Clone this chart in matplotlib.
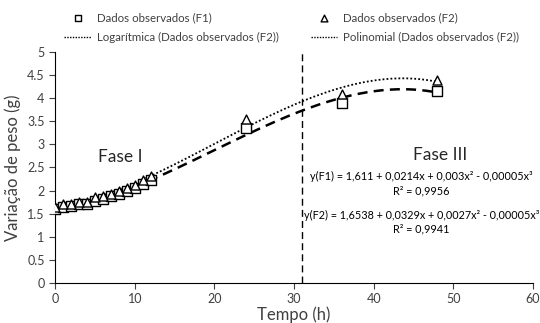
import numpy as np
import matplotlib.pyplot as plt

plt.rcParams['font.family'] = ['Lato', 'DejaVu Sans']

tempo = [0, 1, 2, 3, 4, 5, 6, 7, 8, 9, 10, 11, 12, 24, 36, 48]
peso_f1 = [1.60, 1.64, 1.67, 1.71, 1.72, 1.78, 1.82, 1.88, 1.93, 1.99, 2.06, 2.14, 2.22, 3.36, 3.90, 4.15]
peso_f2 = [1.65, 1.70, 1.72, 1.75, 1.76, 1.85, 1.88, 1.93, 1.98, 2.05, 2.13, 2.23, 2.32, 3.56, 4.09, 4.39]
fase_x = 31

eq_f1 = "y(F1) = 1,611 + 0,0214x + 0,003x² - 0,00005x³"
r2_f1 = "R² = 0,9956"
eq_f2 = "y(F2) = 1,6538 + 0,0329x + 0,0027x² - 0,00005x³"
r2_f2 = "R² = 0,9941"

# trend curves (cubic fit, like the spreadsheet trendlines)
t = np.array(tempo, dtype=float)
xs = np.linspace(0, 48, 200)
fit1 = np.polyval(np.polyfit(t, peso_f1, 3), xs)
fit2 = np.polyval(np.polyfit(t, peso_f2, 3), xs)

fig = plt.figure(figsize=(5.4, 3.23), dpi=100)
ax = fig.add_axes([0.102, 0.124, 0.885, 0.715])

ax.plot(xs, fit1, color='black', lw=1.8, ls=(0, (4, 2.5)), zorder=2)
ax.plot(xs, fit2, color='black', lw=1.3, ls=(0, (1, 1.2)), zorder=2)
ax.plot([fase_x, fase_x], [0, 5], color='black', lw=1, ls=(0, (5, 3)), zorder=1)

s1 = ax.scatter(tempo, peso_f1, marker='s', s=42, facecolor='white', edgecolor='black', lw=1, zorder=3)
s2 = ax.scatter(tempo, peso_f2, marker='^', s=42, facecolor='white', edgecolor='black', lw=1, zorder=4)

ax.text(8.2, 2.72, "Fase I", fontsize=12.5, ha='center', va='center', color='#262626')
ax.text(48.4, 2.78, "Fase III", fontsize=12.5, ha='center', va='center', color='#262626')
ax.text(46.0, 2.31, eq_f1, fontsize=7.8, ha='center', va='center')
ax.text(46.0, 2.00, r2_f1, fontsize=7.8, ha='center', va='center')
ax.text(46.0, 1.46, eq_f2, fontsize=7.8, ha='center', va='center')
ax.text(46.0, 1.16, r2_f2, fontsize=7.8, ha='center', va='center')

ax.set_xlim(0, 60)
ax.set_ylim(0, 5)
ax.set_xticks(range(0, 61, 10))
ax.set_yticks(np.arange(0, 5.01, 0.5))
ax.set_yticklabels(['0', '0.5', '1', '1.5', '2', '2.5', '3', '3.5', '4', '4.5', '5'])
ax.tick_params(labelsize=9, direction='out', length=4, width=0.8, colors='#404040', labelcolor='#404040')
for side in ['top', 'right']:
    ax.spines[side].set_visible(False)
for side in ['left', 'bottom']:
    ax.spines[side].set_color('black')
ax.set_xlabel("Tempo (h)", fontsize=12, color='#404040', labelpad=1)
ax.set_ylabel("Variação de peso (g)", fontsize=12, color='#404040', labelpad=4)

leg_log = plt.Line2D([], [], color='black', lw=1, ls=(0, (1, 1)))
leg_pol = plt.Line2D([], [], color='black', lw=1, ls=(0, (1, 1)))
fig.legend([s1, leg_log, s2, leg_pol],
           ["Dados observados (F1)", "Logarítmica (Dados observados (F2))",
            "Dados observados (F2)", "Polinomial (Dados observados (F2))"],
           ncol=2, loc='upper left', bbox_to_anchor=(0.100, 0.995), frameon=False,
           fontsize=8.3, handlelength=2.3, columnspacing=2.8, handletextpad=0.5,
           labelspacing=0.75, scatterpoints=1, markerscale=0.75, labelcolor='#404040')

fig.savefig('out.png', dpi=100)
